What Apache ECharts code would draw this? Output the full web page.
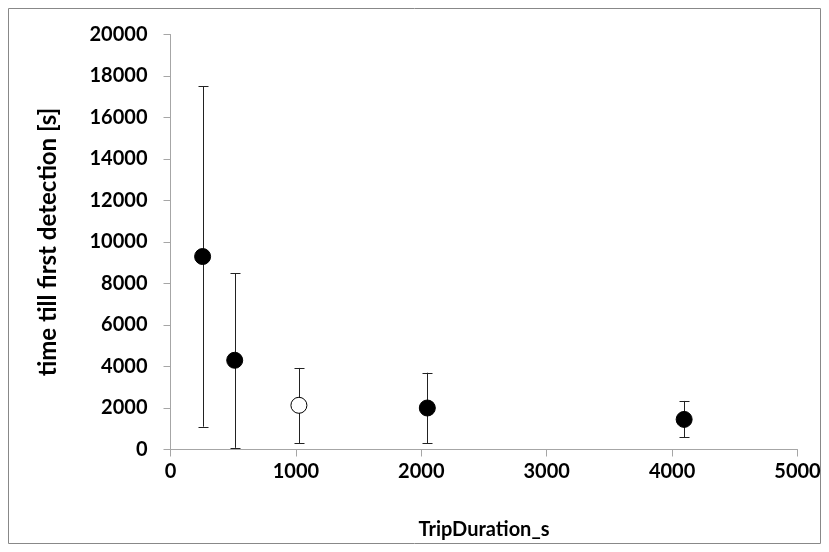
<!DOCTYPE html>
<html>
<head>
<meta charset="utf-8">
<script src="https://cdn.jsdelivr.net/npm/echarts@6/dist/echarts.min.js"></script>
<style>
  html, body { margin: 0; padding: 0; background: #fff; }
  #chart { width: 829px; height: 552px; }
</style>
</head>
<body>
<div id="chart"></div>
<script>
  // 数据
  var tripDuration = [256, 512, 1024, 2048, 4096];
  var meanTime = [9300, 4300, 2130, 2000, 1450];
  var lowTime = [1100, 80, 300, 300, 580];
  var highTime = [17500, 8500, 3930, 3700, 2340];
  var filled = [true, true, false, true, true];

  var chart = echarts.init(document.getElementById('chart'));

  var errData = tripDuration.map(function (x, i) {
    return [x, lowTime[i], highTime[i]];
  });
  var pointData = tripDuration.map(function (x, i) {
    return {
      value: [x, meanTime[i]],
      itemStyle: filled[i]
        ? { color: '#000', borderColor: '#000', borderWidth: 1, opacity: 1 }
        : { color: '#fff', borderColor: '#000', borderWidth: 1, opacity: 1 }
    };
  });

  var labelFont = { color: '#000', fontFamily: 'Lato', fontWeight: 'bold', fontSize: 20 };
  var plain = function (v) { return String(v); };

  chart.setOption({
    animation: false,
    graphic: [{
      type: 'rect',
      shape: { x: 8.5, y: 8.5, width: 812, height: 535 },
      style: { fill: 'none', stroke: '#888', lineWidth: 1 },
      silent: true
    }],
    grid: { left: 170.5, right: 31.5, top: 34.5, bottom: 102.5 },
    xAxis: {
      type: 'value',
      min: 0,
      max: 5000,
      interval: 1000,
      name: 'TripDuration_s',
      nameLocation: 'middle',
      nameGap: 70,
      nameTextStyle: { color: '#000', fontFamily: 'Lato', fontWeight: 'bold', fontSize: 20 },
      axisLine: { show: true, lineStyle: { color: '#a6a6a6', width: 1 } },
      axisTick: { show: true, length: 7, lineStyle: { color: '#a6a6a6' } },
      axisLabel: Object.assign({ margin: 12, formatter: plain }, labelFont),
      splitLine: { show: false }
    },
    yAxis: {
      type: 'value',
      min: 0,
      max: 20000,
      interval: 2000,
      name: 'time till first detection [s]',
      nameLocation: 'middle',
      nameGap: 110,
      nameTextStyle: { color: '#000', fontFamily: 'Lato', fontWeight: 'bold', fontSize: 24 },
      axisLine: { show: true, lineStyle: { color: '#a6a6a6', width: 1 } },
      axisTick: { show: true, length: 7, lineStyle: { color: '#a6a6a6' } },
      axisLabel: Object.assign({ margin: 23, formatter: plain }, labelFont),
      splitLine: { show: false }
    },
    series: [
      {
        type: 'custom',
        name: 'error',
        data: errData,
        z: 1,
        renderItem: function (params, api) {
          var x = api.value(0);
          var lo = api.coord([x, api.value(1)]);
          var hi = api.coord([x, api.value(2)]);
          var cx = Math.round(lo[0]) + 0.5;
          var capW = 5;
          var style = { stroke: '#222', lineWidth: 1 };
          return {
            type: 'group',
            children: [
              { type: 'line', shape: { x1: cx, y1: hi[1], x2: cx, y2: lo[1] }, style: style },
              { type: 'line', shape: { x1: cx - capW, y1: Math.round(hi[1]) + 0.5, x2: cx + capW, y2: Math.round(hi[1]) + 0.5 }, style: style },
              { type: 'line', shape: { x1: cx - capW, y1: Math.round(lo[1]) + 0.5, x2: cx + capW, y2: Math.round(lo[1]) + 0.5 }, style: style }
            ]
          };
        }
      },
      {
        type: 'scatter',
        name: 'mean',
        data: pointData,
        symbol: 'circle',
        symbolSize: 16,
        z: 2
      }
    ]
  });
</script>
</body>
</html>
